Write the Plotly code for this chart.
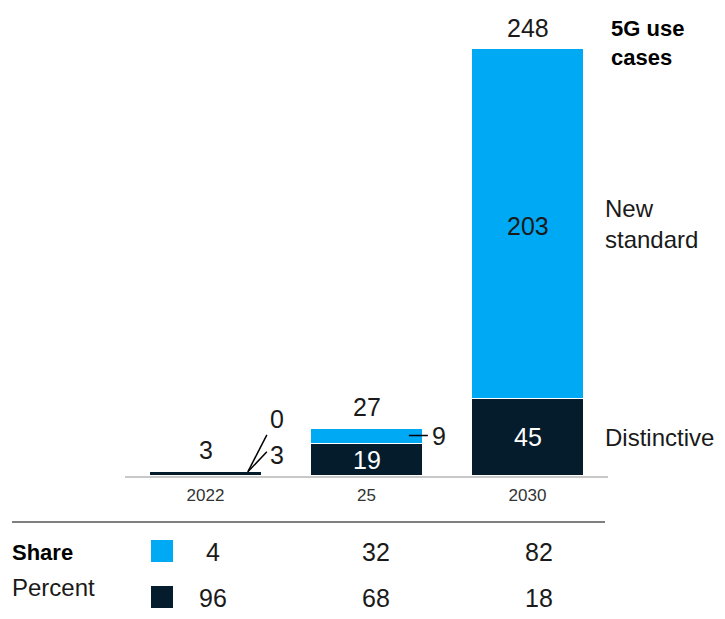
import plotly.graph_objects as go

# Number of 5G use cases by type
categories = ["2022", "25", "2030"]
distinctive = [3, 19, 45]
new_standard = [0, 9, 203]
totals = [3, 27, 248]

# Share of use cases, percent
share_new = [4, 32, 82]
share_distinctive = [96, 68, 18]

CYAN = "#00A9F4"
NAVY = "#051C2C"
INK = "#1a1a1a"
FONT = "Liberation Sans"

x = list(range(len(categories)))
fig = go.Figure()

fig.add_trace(go.Bar(
    x=x, y=distinctive, name="Distinctive",
    marker=dict(color=NAVY, line=dict(color="white", width=1.5)),
    width=0.7, hoverinfo="skip",
))
fig.add_trace(go.Bar(
    x=x, y=new_standard, name="New standard",
    marker=dict(color=CYAN,
                line=dict(color="white", width=[0 if v == 0 else 1.5 for v in new_standard])),
    width=0.7, hoverinfo="skip",
))

ann = []
shapes = []
num_font = dict(family=FONT, size=25, color=INK)

# totals above each stack
for i, t in enumerate(totals):
    top = distinctive[i] + new_standard[i]
    ann.append(dict(x=i, y=top, text=str(t), showarrow=False, xref="x", yref="y",
                    yanchor="middle", yshift=21, font=num_font))

# labels inside segments that are tall enough
for i in range(len(categories)):
    if distinctive[i] >= 15:
        ann.append(dict(x=i, y=distinctive[i] / 2, text=str(distinctive[i]), showarrow=False,
                        yanchor="middle", font=dict(family=FONT, size=25, color="white")))
    if new_standard[i] >= 50:
        ann.append(dict(x=i, y=distinctive[i] + new_standard[i] / 2, text=str(new_standard[i]),
                        showarrow=False, yanchor="middle", yshift=-2,
                        font=dict(family=FONT, size=25, color=INK)))

# 2025: small new-standard segment labelled with a leader line
i = 1
mid = distinctive[i] + new_standard[i] / 2
shapes.append(dict(type="line", xref="x", yref="y", xsizemode="pixel", ysizemode="pixel",
                   xanchor=i + 0.35, yanchor=mid, x0=-14, x1=5, y0=0, y1=0,
                   line=dict(color="black", width=1.5)))
ann.append(dict(x=i + 0.35, y=mid, text=str(new_standard[i]), showarrow=False,
                xanchor="left", yanchor="middle", xshift=7, font=num_font))

# 2022: both segments labelled to the right with leader lines
i = 0
for dy_end, dy_text, val in [(36, 52, new_standard[i]), (19, 16, distinctive[i])]:
    shapes.append(dict(type="line", xref="x", yref="y", xsizemode="pixel", ysizemode="pixel",
                       xanchor=i + 0.35, yanchor=distinctive[i], x0=-14, y0=-1, x1=5, y1=dy_end,
                       line=dict(color="black", width=1.5)))
    ann.append(dict(x=i + 0.35, y=distinctive[i], text=str(val), showarrow=False,
                    xanchor="center", yanchor="middle", xshift=15, yshift=dy_text, font=num_font))

# series labels on the right
label_font = dict(family=FONT, size=24, color=INK)
last = len(categories) - 1
ann.append(dict(x=2.5, y=totals[last], text="<b>5G use<br>cases</b>", showarrow=False,
                xanchor="left", yanchor="middle", xshift=1, yshift=6, align="left",
                font=dict(family=FONT, size=22, color="black")))
ann.append(dict(x=2.5, y=distinctive[last] + new_standard[last] / 2, text="New<br>standard",
                showarrow=False, xanchor="left", yanchor="middle", xshift=-5, align="left",
                font=label_font))
ann.append(dict(x=2.5, y=distinctive[last] / 2, text="Distinctive", showarrow=False,
                xanchor="left", yanchor="middle", xshift=-5, font=label_font))

# share table below the chart
PLOT_H = 448.0
def py(px_below_base):
    return -px_below_base / PLOT_H

shapes.append(dict(type="line", xref="paper", yref="paper",
                   x0=-113 / 483, x1=480 / 483, y0=py(46), y1=py(46),
                   line=dict(color="black", width=1)))
ann.append(dict(xref="paper", yref="paper", x=-115 / 483, y=py(76), text="<b>Share</b>",
                showarrow=False, xanchor="left", yanchor="middle",
                font=dict(family=FONT, size=22, color="black")))
ann.append(dict(xref="paper", yref="paper", x=-115 / 483, y=py(111), text="Percent",
                showarrow=False, xanchor="left", yanchor="middle", font=label_font))
for color, y0, y1 in [(CYAN, 64, 86), (NAVY, 110, 132)]:
    shapes.append(dict(type="rect", xref="paper", yref="paper",
                       x0=26 / 483, x1=48 / 483, y0=py(y0), y1=py(y1),
                       fillcolor=color, line=dict(width=0)))
for i in range(len(categories)):
    for vals, row in [(share_new, 76), (share_distinctive, 122)]:
        ann.append(dict(xref="x", yref="paper", x=i, y=py(row), text=str(vals[i]),
                        showarrow=False, xanchor="center", yanchor="middle",
                        xshift=7 + 2 * i, font=num_font))

fig.update_layout(
    barmode="stack",
    width=725, height=619,
    margin=dict(l=125, r=117, t=28, b=143),
    paper_bgcolor="white", plot_bgcolor="white",
    showlegend=False,
    annotations=ann, shapes=shapes,
    xaxis=dict(range=[-0.5, 2.5], tickvals=x, ticktext=categories, showgrid=False,
               zeroline=False, showline=True, linecolor="#c8c8c8", linewidth=2,
               ticks="", ticklabelstandoff=3,
               tickfont=dict(family=FONT, size=17, color="#333333"),
               fixedrange=True),
    yaxis=dict(range=[0, 260], visible=False, fixedrange=True),
)

fig.write_html("out.html")
